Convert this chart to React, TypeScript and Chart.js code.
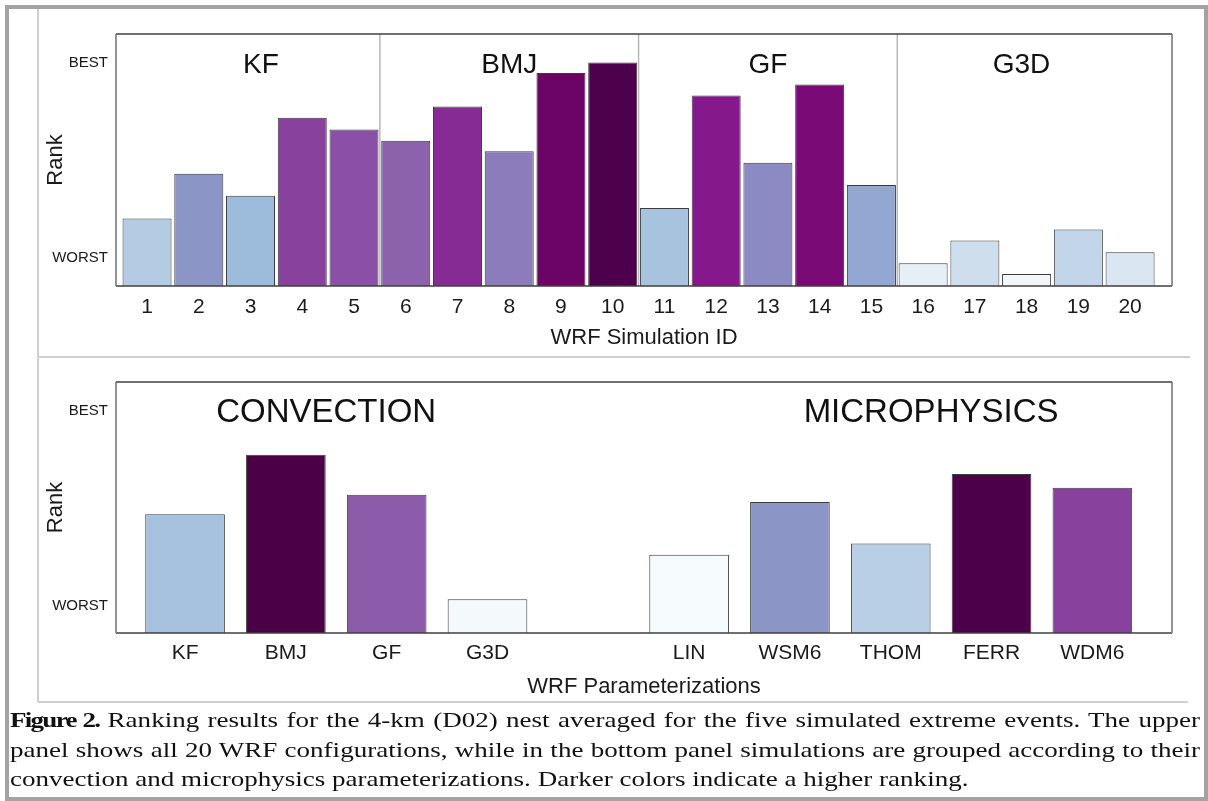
import React, { useEffect, useRef } from "react";
import { Chart, registerables } from "chart.js";

Chart.register(...registerables);

// ---------- data: upper panel (20 WRF simulations) ----------
const simIds = [1, 2, 3, 4, 5, 6, 7, 8, 9, 10, 11, 12, 13, 14, 15, 16, 17, 18, 19, 20];
const simRanks = [26.8, 44.5, 35.8, 66.8, 62.1, 57.6, 71.2, 53.5, 84.5, 88.7, 31.0, 75.6, 48.9, 80.0, 40.1, 9.0, 18.1, 4.8, 22.4, 13.4];
const simColors = [
  "#b3cce3", "#8c96c6", "#9dbbda", "#88419d", "#8a4fa7",
  "#8b62ab", "#862b93", "#8c7cbb", "#6b0465", "#4d004b",
  "#a7c3de", "#85198b", "#8c8ac2", "#7a0b76", "#92a8d2",
  "#e7eff6", "#cfdeed", "#f3f7fa", "#c3d6e9", "#dae6f1",
];
const simGroups = ["KF", "BMJ", "GF", "G3D"];
const simGroupCenters = [3.2, 8, 13, 17.9];
const simGroupBounds = [5.5, 10.5, 15.5];

// ---------- data: lower panel (parameterizations) ----------
const paramNames = ["KF", "BMJ", "GF", "G3D", "LIN", "WSM6", "THOM", "FERR", "WDM6"];
const paramSlots = [1, 2, 3, 4, 6, 7, 8, 9, 10];
const paramRanks = [47.3, 71.0, 55.1, 13.4, 31.2, 52.2, 35.7, 63.3, 57.9];
const paramColors = ["#a6c2de", "#4b0045", "#8b5ba9", "#f4f9fb", "#f5fafc", "#8b96c6", "#b8cfe5", "#4d0049", "#88419d"];
const paramGroups = ["CONVECTION", "MICROPHYSICS"];
const paramGroupCenters = [2.4, 8.4];

// ---------- rank axis ----------
const rankTickValues = [11, 88.6];
const rankTickLabels = ["WORST", "BEST"];

const SANS = '"Liberation Sans", Arial, Helvetica, sans-serif';

function decorPlugin(groups: string[], centers: number[], bounds: number[], groupSize: number) {
  return {
    id: "panelDecor",
    beforeDatasetsDraw(chart: any) {
      const { ctx, chartArea: a, scales } = chart;
      const x = scales.x;
      ctx.save();
      ctx.strokeStyle = "#b8b8b8";
      ctx.lineWidth = 1.5;
      bounds.forEach((b) => {
        const px = x.getPixelForValue(b);
        ctx.beginPath();
        ctx.moveTo(px, a.top);
        ctx.lineTo(px, a.bottom);
        ctx.stroke();
      });
      ctx.restore();
    },
    afterDatasetsDraw(chart: any) {
      const { ctx, chartArea: a, scales } = chart;
      const x = scales.x;
      const y = scales.y;
      ctx.save();
      ctx.lineWidth = 1.5;
      // top and bottom edges darker, sides lighter (as in the reference box)
      ctx.strokeStyle = "#404040";
      ctx.beginPath();
      ctx.moveTo(a.left, a.top);
      ctx.lineTo(a.right, a.top);
      ctx.moveTo(a.left, a.bottom);
      ctx.lineTo(a.right, a.bottom);
      ctx.stroke();
      ctx.strokeStyle = "#707070";
      ctx.beginPath();
      ctx.moveTo(a.left, a.top);
      ctx.lineTo(a.left, a.bottom);
      ctx.moveTo(a.right, a.top);
      ctx.lineTo(a.right, a.bottom);
      ctx.stroke();
      ctx.fillStyle = "#111111";
      ctx.font = `${groupSize}px ${SANS}`;
      ctx.textAlign = "center";
      ctx.textBaseline = "alphabetic";
      const yBest = y.getPixelForValue(rankTickValues[1]);
      groups.forEach((g, i) => {
        ctx.fillText(g, x.getPixelForValue(centers[i]), yBest + 0.36 * groupSize);
      });
      ctx.restore();
    },
  };
}

function makeConfig(p: any) {
  return {
    type: "bar",
    data: {
      datasets: [
        {
          data: p.xs.map((v: number, i: number) => ({ x: v, y: p.ys[i] })),
          backgroundColor: p.colors,
          borderColor: "#3c3c3c",
          borderWidth: 1,
          barPercentage: p.barPct,
          categoryPercentage: 1,
        },
      ],
    },
    options: {
      responsive: false,
      maintainAspectRatio: false,
      animation: false,
      devicePixelRatio: 1,
      events: [],
      layout: { padding: { left: 0, right: 36, top: p.padTop, bottom: 0 } },
      plugins: { legend: { display: false }, tooltip: { enabled: false } },
      scales: {
        x: {
          type: "linear",
          min: p.xMin,
          max: p.xMax,
          offset: false,
          grid: { display: false, drawTicks: false, offset: false },
          border: { display: false },
          afterBuildTicks: (s: any) => {
            s.ticks = p.xs.map((v: number) => ({ value: v }));
          },
          afterFit: (s: any) => {
            s.height = p.xAxisH;
          },
          ticks: {
            autoSkip: false,
            maxRotation: 0,
            minRotation: 0,
            padding: p.tickPad,
            color: "#1a1a1a",
            font: { family: SANS, size: 21 },
            callback: (v: number) => {
              const i = p.xs.indexOf(v);
              return i >= 0 ? p.labels[i] : "";
            },
          },
          title: {
            display: true,
            text: p.title,
            color: "#1a1a1a",
            font: { family: SANS, size: 22 },
            padding: { top: 0, bottom: p.titlePadBottom },
          },
        },
        y: {
          type: "linear",
          min: 0,
          max: 100,
          grid: { display: false, drawTicks: false },
          border: { display: false },
          afterBuildTicks: (s: any) => {
            s.ticks = rankTickValues.map((v) => ({ value: v }));
          },
          afterFit: (s: any) => {
            s.width = 116;
          },
          ticks: {
            padding: 8,
            color: "#1a1a1a",
            font: { family: SANS, size: 15 },
            callback: (v: number) => {
              const i = rankTickValues.indexOf(v);
              return i >= 0 ? rankTickLabels[i] : "";
            },
          },
          title: {
            display: true,
            text: "Rank",
            color: "#1a1a1a",
            font: { family: SANS, size: 22 },
            padding: { top: 43, bottom: 0 },
          },
        },
      },
    },
    plugins: [decorPlugin(p.groups, p.centers, p.bounds, p.groupSize)],
  };
}

const line = (l: number, t: number, w: number, h: number, c = "#cfcfcf") => (
  <div style={{ position: "absolute", left: l, top: t, width: w, height: h, background: c }} />
);

export default function App() {
  const topRef = useRef<HTMLCanvasElement | null>(null);
  const botRef = useRef<HTMLCanvasElement | null>(null);

  useEffect(() => {
    const top = new Chart(
      topRef.current as HTMLCanvasElement,
      makeConfig({
        xs: simIds,
        ys: simRanks,
        labels: simIds.map(String),
        colors: simColors,
        xMin: 0.4,
        xMax: 20.81,
        barPct: 0.947,
        title: "WRF Simulation ID",
        padTop: 34,
        xAxisH: 74,
        tickPad: 9,
        titlePadBottom: 9,
        groups: simGroups,
        centers: simGroupCenters,
        bounds: simGroupBounds,
        groupSize: 28,
      }) as any
    );
    const bot = new Chart(
      botRef.current as HTMLCanvasElement,
      makeConfig({
        xs: paramSlots,
        ys: paramRanks,
        labels: paramNames,
        colors: paramColors,
        xMin: 0.315,
        xMax: 10.79,
        barPct: 0.79,
        title: "WRF Parameterizations",
        padTop: 24,
        xAxisH: 72,
        tickPad: 8,
        titlePadBottom: 5,
        groups: paramGroups,
        centers: paramGroupCenters,
        bounds: [],
        groupSize: 33,
      }) as any
    );
    return () => {
      top.destroy();
      bot.destroy();
    };
  }, []);

  const capScale = 1.2286;
  const capWidth = 1190 / capScale;
  const capLine: React.CSSProperties = {
    whiteSpace: "nowrap",
    textAlign: "justify",
    textAlignLast: "justify" as any,
    height: 29.5,
  };

  return (
    <div style={{ position: "absolute", left: 0, top: 0, width: 1208, height: 801, background: "#ffffff", overflow: "hidden" }}>
      <canvas ref={topRef} width={1208} height={360} style={{ position: "absolute", left: 0, top: 0, width: 1208, height: 360 }} />
      <canvas ref={botRef} width={1208} height={347} style={{ position: "absolute", left: 0, top: 358, width: 1208, height: 347 }} />
      {line(37, 9, 2, 348)}
      {line(38, 356, 1152, 2)}
      {line(37, 358, 2, 344)}
      {line(38, 701, 1150, 2)}
      <div
        style={{
          position: "absolute",
          left: 5,
          top: 5,
          width: 1203,
          height: 796,
          border: "4px solid #a3a3a3",
          boxSizing: "border-box",
        }}
      />
      <div
        style={{
          position: "absolute",
          left: 10,
          top: 705,
          width: capWidth,
          transform: `scaleX(${capScale})`,
          transformOrigin: "left top",
          fontFamily: '"Liberation Serif", "Times New Roman", serif',
          fontSize: 22,
          lineHeight: "29.5px",
          color: "#111",
        }}
      >
        <div style={capLine}>
          <b style={{ letterSpacing: "-1.4px" }}>Figure 2.</b> Ranking results for the 4-km (D02) nest averaged for the five simulated extreme events. The upper
        </div>
        <div style={capLine}>
          panel shows all 20 WRF configurations, while in the bottom panel simulations are grouped according to their
        </div>
        <div style={{ whiteSpace: "nowrap", height: 29.5 }}>
          convection and microphysics parameterizations. Darker colors indicate a higher ranking.
        </div>
      </div>
    </div>
  );
}
